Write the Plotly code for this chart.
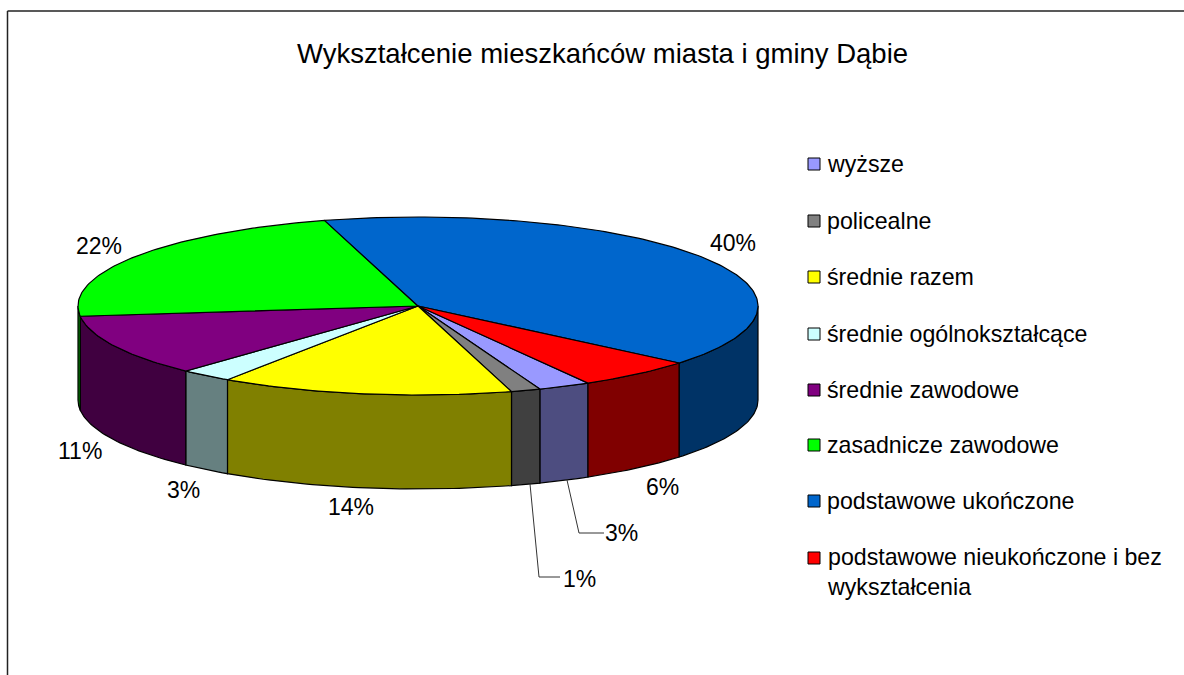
import math
import plotly.graph_objects as go

categories = ["wyższe", "policealne", "średnie razem", "średnie ogólnokształcące",
              "średnie zawodowe", "zasadnicze zawodowe", "podstawowe ukończone",
              "podstawowe nieukończone i bez<br>wykształcenia"]
values = [2.5, 1.4, 13.9, 2.5, 11.2, 22.4, 40.5, 5.6]
percent_labels = ["3%", "1%", "14%", "3%", "11%", "22%", "40%", "6%"]
top_colors = ["#9999FF", "#808080", "#FFFF00", "#CCFFFF", "#800080", "#00FF00", "#0066CC", "#FF0000"]
side_colors = ["#4D4D80", "#404040", "#808000", "#668080", "#400040", "#008000", "#003366", "#800000"]

CX, CY, RX, RY, DEPTH = 418, 306, 340, 89, 94
START = 60
FONT = "Liberation Sans"


def px(t):
    r = math.radians(t)
    return CX + RX * math.cos(r), CY + RY * math.sin(r)


fig = go.Figure()
angles = [START]
for v in values:
    angles.append(angles[-1] + v * 3.6)

sweeps = []
for i, v in enumerate(values):
    a, b = angles[i], angles[i + 1]
    n = max(int(b - a), 2)
    ts = [a + (b - a) * k / n for k in range(n + 1)]
    sweeps.append(ts)

# side walls: only the front half of the rim is visible
walls = []
for i, ts in enumerate(sweeps):
    lo, hi = ts[0], ts[-1]
    vis = []
    for w0, w1 in ((0, 180), (360, 540)):
        a, b = max(lo, w0), min(hi, w1)
        if b > a:
            vis = [t for t in ts if a < t < b]
            vis = [a] + vis + [b]
    if vis:
        walls.append((i, vis))
for i, vis in walls:
    pts = [px(t) for t in vis]
    xs = [p[0] for p in pts] + [p[0] for p in reversed(pts)] + [pts[0][0]]
    ys = [p[1] for p in pts] + [p[1] + DEPTH for p in reversed(pts)] + [pts[0][1]]
    fig.add_trace(go.Scatter(x=xs, y=ys, mode="lines", fill="toself", fillcolor=side_colors[i],
                             line=dict(color="black", width=1.2), hoverinfo="skip", showlegend=False))

for i, ts in enumerate(sweeps):
    pts = [px(t) for t in ts]
    xs = [CX] + [p[0] for p in pts] + [CX]
    ys = [CY] + [p[1] for p in pts] + [CY]
    fig.add_trace(go.Scatter(x=xs, y=ys, mode="lines", fill="toself", fillcolor=top_colors[i],
                             line=dict(color="black", width=1.2), hoverinfo="skip", showlegend=False))

# percent labels
label_pos = [(621, 533), (579, 579), (351, 507), (183, 490), (80, 451), (99, 246), (733, 243), (662, 487)]
for txt, (x, y) in zip(percent_labels, label_pos):
    fig.add_annotation(x=x, y=y, text=txt, showarrow=False, xanchor="center", yanchor="middle",
                       font=dict(family=FONT, size=23, color="black"))

# leader lines
for lx, ly in [([567, 579, 604], [480, 533, 533]), ([530, 539, 560], [484, 577, 577])]:
    fig.add_trace(go.Scatter(x=lx, y=ly, mode="lines", line=dict(color="#333333", width=1),
                             hoverinfo="skip", showlegend=False))

# legend
legend_y = [164, 221, 277, 334, 390, 445, 501, 572]
for name, col, y in zip(categories, top_colors, legend_y):
    my = y if "<br>" not in name else 558
    fig.add_trace(go.Scatter(x=[814], y=[my], mode="markers", showlegend=False, hoverinfo="skip",
                             marker=dict(symbol="square", size=12, color=col, line=dict(color="black", width=1))))
    fig.add_annotation(x=825, y=y, text=name, showarrow=False, xanchor="left", yanchor="middle", align="left",
                       font=dict(family=FONT, size=23.2, color="black"))

fig.add_annotation(x=602, y=53, text="Wykształcenie mieszkańców miasta i gminy Dąbie", showarrow=False,
                   xanchor="center", yanchor="middle", font=dict(family=FONT, size=27.5, color="black"))

# frame
fig.add_shape(type="line", x0=7.5, x1=1184, y0=11, y1=11, line=dict(color="#222222", width=1.5))
fig.add_shape(type="line", x0=7.5, x1=7.5, y0=11, y1=675, line=dict(color="#222222", width=1.5))

fig.update_layout(width=1184, height=675, margin=dict(l=0, r=0, t=0, b=0), plot_bgcolor="white",
                  paper_bgcolor="white", showlegend=False,
                  xaxis=dict(range=[0, 1184], visible=False, fixedrange=True),
                  yaxis=dict(range=[675, 0], visible=False, fixedrange=True))
fig.write_html("out.html", config=dict(displayModeBar=False),
               post_script="document.body.style.margin='0';document.documentElement.style.overflow='hidden';")
